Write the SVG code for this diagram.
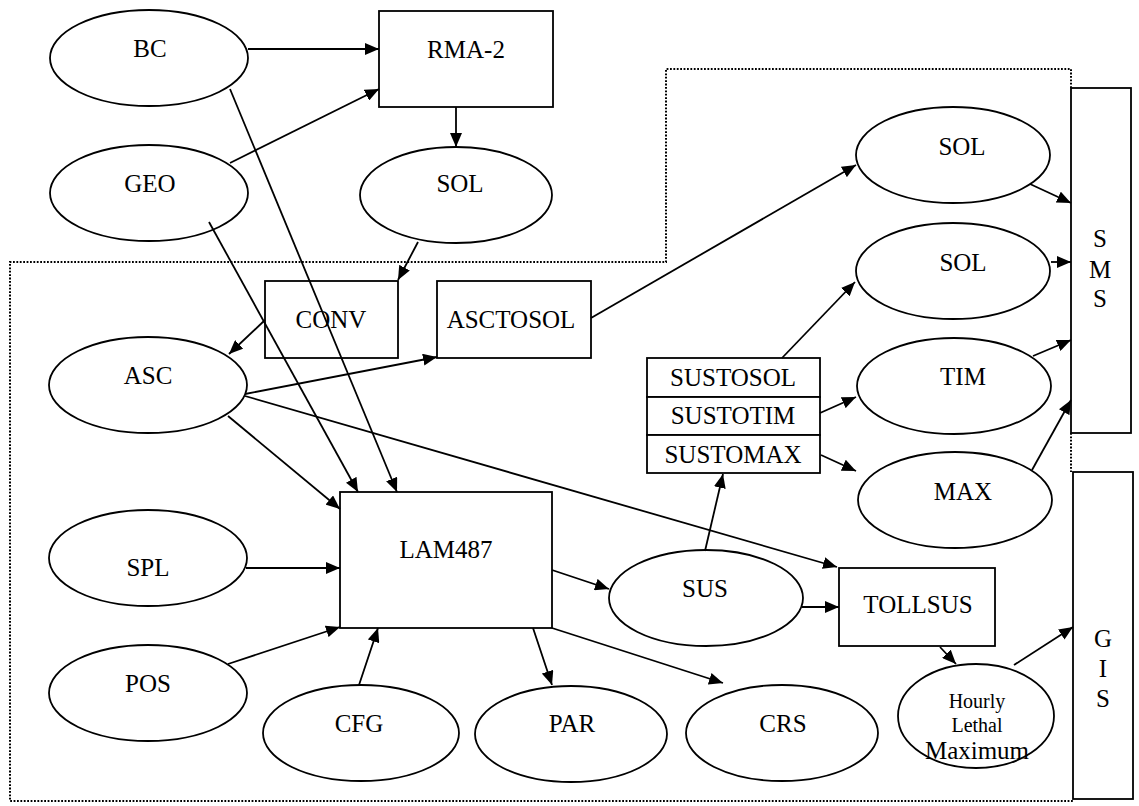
<svg xmlns="http://www.w3.org/2000/svg" width="1139" height="806" viewBox="0 0 1139 806">
<style>
.n{fill:#fff;stroke:#000;stroke-width:1.8}
.t{font-family:"Liberation Serif","Times New Roman",serif;font-size:25px;text-anchor:middle;fill:#000}
.s{font-size:20px}
.c line{stroke:#000;stroke-width:1.8;marker-end:url(#a)}
.d{fill:none;stroke:#000;stroke-width:2;stroke-dasharray:1.8 1.6}
</style>
<defs>
<marker id="a" markerUnits="userSpaceOnUse" markerWidth="14" markerHeight="12" viewBox="0 0 14 12" refX="14" refY="6" orient="auto">
<path d="M0,0 L14,6 L0,12 z" fill="#000"/>
</marker>
</defs>
<rect width="1139" height="806" fill="#fff"/>
<path class="d" d="M1071,88 L1071,69 L666,69 L666,262 L10,262 L10,801 L1073,801"/>
<path class="d" d="M1071,433 L1071,472"/>
<g id="BC"><ellipse class="n" cx="149" cy="58" rx="99" ry="48"/><text class="t" x="150" y="57">BC</text></g>
<g id="GEO"><ellipse class="n" cx="149" cy="193" rx="99" ry="48"/><text class="t" x="150" y="192">GEO</text></g>
<g id="RMA2"><rect class="n" x="379" y="11" width="174" height="96"/><text class="t" x="466" y="58">RMA-2</text></g>
<g id="SOL1"><ellipse class="n" cx="456" cy="195" rx="96" ry="48"/><text class="t" x="460" y="192">SOL</text></g>
<g id="CONV"><rect class="n" x="265" y="281" width="133" height="77"/><text class="t" x="331" y="328">CONV</text></g>
<g id="ASCTOSOL"><rect class="n" x="437" y="281" width="154" height="77"/><text class="t" x="511" y="328">ASCTOSOL</text></g>
<g id="ASC"><ellipse class="n" cx="148" cy="385" rx="99" ry="48"/><text class="t" x="148" y="384">ASC</text></g>
<g id="SPL"><ellipse class="n" cx="148" cy="558" rx="99" ry="48"/><text class="t" x="148" y="576">SPL</text></g>
<g id="POS"><ellipse class="n" cx="148" cy="693" rx="99" ry="48"/><text class="t" x="148" y="692">POS</text></g>
<g id="CFG"><ellipse class="n" cx="361" cy="733" rx="98" ry="48"/><text class="t" x="359" y="732">CFG</text></g>
<g id="LAM487"><rect class="n" x="340" y="492" width="212" height="136"/><text class="t" x="446" y="558">LAM487</text></g>
<g id="PAR"><ellipse class="n" cx="571" cy="734" rx="96" ry="48"/><text class="t" x="572" y="732">PAR</text></g>
<g id="CRS"><ellipse class="n" cx="782" cy="733" rx="96" ry="48"/><text class="t" x="783" y="732">CRS</text></g>
<g id="SUS"><ellipse class="n" cx="706" cy="598" rx="97" ry="48"/><text class="t" x="705" y="597">SUS</text></g>
<g id="TOLLSUS"><rect class="n" x="839" y="568" width="156" height="78"/><text class="t" x="918" y="613">TOLLSUS</text></g>
<g id="SUSTO">
<rect class="n" x="647" y="358" width="173" height="39"/><text class="t" x="733" y="386">SUSTOSOL</text>
<rect class="n" x="647" y="397" width="173" height="38"/><text class="t" x="733" y="424">SUSTOTIM</text>
<rect class="n" x="647" y="435" width="173" height="38"/><text class="t" x="733" y="463">SUSTOMAX</text>
</g>
<g id="SOL2"><ellipse class="n" cx="953" cy="155" rx="97" ry="48"/><text class="t" x="962" y="155">SOL</text></g>
<g id="SOL3"><ellipse class="n" cx="953" cy="271" rx="97" ry="48"/><text class="t" x="963" y="271">SOL</text></g>
<g id="TIM"><ellipse class="n" cx="954" cy="386" rx="97" ry="48"/><text class="t" x="963" y="385">TIM</text></g>
<g id="MAX"><ellipse class="n" cx="955" cy="500" rx="97" ry="48"/><text class="t" x="963" y="500">MAX</text></g>
<g id="HLM"><ellipse class="n" cx="976" cy="716" rx="78" ry="52"/>
<text class="t s" x="977" y="708">Hourly</text><text class="t s" x="977" y="732">Lethal</text><text class="t" x="977" y="759">Maximum</text></g>
<g id="SMS"><rect class="n" x="1071" y="88" width="60" height="345"/>
<text class="t" x="1100" y="247">S</text><text class="t" x="1100" y="278">M</text><text class="t" x="1100" y="307">S</text></g>
<g id="GIS"><rect class="n" x="1073" y="472" width="60" height="327"/>
<text class="t" x="1103" y="647">G</text><text class="t" x="1103" y="677">I</text><text class="t" x="1103" y="707">S</text></g>
<g class="c" id="connectors">
<line x1="248" y1="49" x2="379" y2="49"/>
<line x1="230" y1="163" x2="379" y2="89"/>
<line x1="456" y1="107" x2="456" y2="147"/>
<line x1="230" y1="89" x2="397" y2="492"/>
<line x1="209" y1="222" x2="358" y2="492"/>
<line x1="418" y1="242" x2="398" y2="280"/>
<line x1="265" y1="320" x2="229" y2="354"/>
<line x1="245" y1="394" x2="437" y2="357"/>
<line x1="591" y1="318" x2="856" y2="165"/>
<line x1="228" y1="416" x2="340" y2="509"/>
<line x1="245" y1="396" x2="837" y2="567"/>
<line x1="246" y1="568" x2="340" y2="568"/>
<line x1="228" y1="664" x2="340" y2="627"/>
<line x1="359" y1="685" x2="378" y2="628"/>
<line x1="552" y1="570" x2="609" y2="589"/>
<line x1="533" y1="628" x2="552" y2="685"/>
<line x1="552" y1="628" x2="723" y2="683"/>
<line x1="705" y1="551" x2="723" y2="474"/>
<line x1="802" y1="607" x2="839" y2="607"/>
<line x1="782" y1="358" x2="855" y2="282"/>
<line x1="820" y1="413" x2="856" y2="397"/>
<line x1="821" y1="455" x2="856" y2="471"/>
<line x1="1030" y1="184" x2="1071" y2="203"/>
<line x1="1051" y1="262" x2="1071" y2="262"/>
<line x1="1033" y1="356" x2="1071" y2="340"/>
<line x1="1032" y1="470" x2="1071" y2="400"/>
<line x1="940" y1="647" x2="956" y2="664"/>
<line x1="1014" y1="665" x2="1073" y2="627"/>
</g>
</svg>
